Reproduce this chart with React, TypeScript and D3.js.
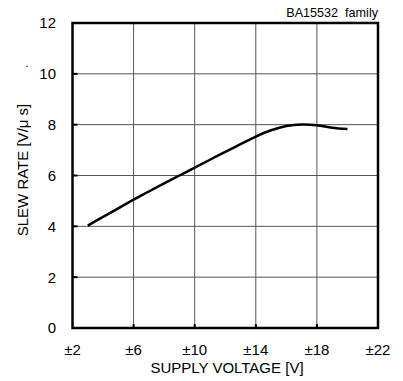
import React from "react";
import * as d3 from "d3";

const voltages = [3, 4, 5, 6, 7, 8, 9, 10, 11, 12, 13, 14, 15, 16, 17, 18, 19, 20];
const slewRates = [4.03, 4.37, 4.71, 5.05, 5.37, 5.69, 6.0, 6.31, 6.62, 6.93, 7.23, 7.53, 7.78, 7.95, 8.01, 7.98, 7.88, 7.83];
const xTicks = [2, 6, 10, 14, 18, 22];
const yTicks = [0, 2, 4, 6, 8, 10, 12];
const title = "BA15532  family";
const xLabel = "SUPPLY VOLTAGE [V]";
const yLabel = "SLEW RATE [V/\u03bc s]";

const W = 403, H = 381;
const L = 72.5, R = 378, T = 23, B = 328;

export default function App() {
  const x = d3.scaleLinear().domain([2, 22]).range([L, R]);
  const y = d3.scaleLinear().domain([0, 12]).range([B, T]);
  const line = d3
    .line<number>()
    .x((_, i) => x(voltages[i]))
    .y((d) => y(d))
    .curve(d3.curveCatmullRom.alpha(0.5));
  const font = "'Liberation Sans', Arial, sans-serif";
  return (
    <svg width={W} height={H} style={{ position: "absolute", left: 0, top: 0, background: "#fff" }} fontFamily={font}>
      {xTicks.slice(1, -1).map((t) => (
        <line key={"gx" + t} x1={x(t)} x2={x(t)} y1={T} y2={B} stroke="#555" strokeWidth={1} />
      ))}
      {yTicks.slice(1, -1).map((t) => (
        <line key={"gy" + t} x1={L} x2={R} y1={y(t)} y2={y(t)} stroke="#555" strokeWidth={1} />
      ))}
      {xTicks.slice(1, -1).map((t) => (
        <line key={"tx" + t} x1={x(t)} x2={x(t)} y1={B} y2={B - 4} stroke="#000" strokeWidth={2} />
      ))}
      {yTicks.slice(1, -1).map((t) => (
        <line key={"ty" + t} x1={L} x2={L + 5} y1={y(t)} y2={y(t)} stroke="#000" strokeWidth={2} />
      ))}
      <rect x={L} y={T} width={R - L} height={B - T} fill="none" stroke="#000" strokeWidth={2.5} />
      <path d={line(slewRates) || ""} fill="none" stroke="#000" strokeWidth={2.5} />
      {yTicks.map((t) => (
        <text key={"ly" + t} x={56} y={y(t)} dy="0.36em" textAnchor="end" fontSize={15} fill="#000">
          {t}
        </text>
      ))}
      {xTicks.map((t) => (
        <text key={"lx" + t} x={x(t)} y={355} textAnchor="middle" fontSize={15} fill="#000">
          {"\u00b1" + t}
        </text>
      ))}
      <text x={227} y={373} textAnchor="middle" fontSize={15} fill="#000">
        {xLabel}
      </text>
      <text transform="translate(28,170) rotate(-90)" textAnchor="middle" fontSize={15} fill="#000">
        {yLabel}
      </text>
      <text x={27} y={67} textAnchor="middle" fontSize={12} fill="#000">.</text>
      <text x={378} y={17} textAnchor="end" fontSize={12.6} fill="#000" style={{ whiteSpace: "pre" }}>
        {title}
      </text>
    </svg>
  );
}
